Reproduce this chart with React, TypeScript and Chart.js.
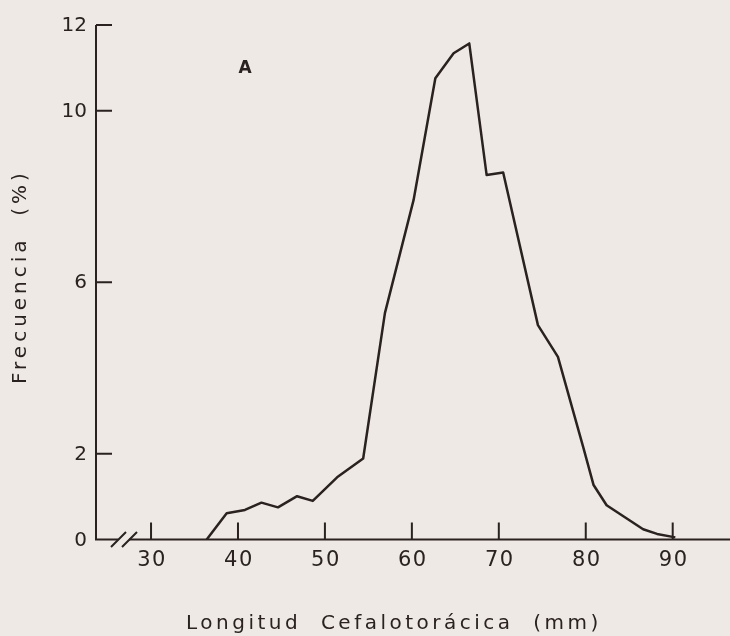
import React, { useEffect, useRef } from "react";
import { Chart, registerables } from "chart.js";

Chart.register(...registerables);

// Carapace length classes (mm) and their frequency (%)
const LENGTH_MM = [
  36.4, 38.7, 40.8, 42.7, 44.6, 46.8, 48.6, 51.4, 54.4, 56.9, 60.2, 62.7,
  64.8, 66.6, 68.6, 70.5, 74.5, 76.8, 79.7, 80.9, 82.4, 86.6, 88.2, 90.3,
];
const FREQ_PCT = [
  0, 0.61, 0.69, 0.86, 0.75, 1.01, 0.9, 1.45, 1.89, 5.28, 7.92, 10.76,
  11.34, 11.57, 8.5, 8.56, 5.0, 4.26, 2.16, 1.27, 0.8, 0.24, 0.13, 0.05,
];

const X_TICKS = [30, 40, 50, 60, 70, 80, 90];
const Y_TICKS = [0, 2, 6, 10, 12];
const X_MIN = 23.67;
const X_MAX = 96.59;
const Y_MAX = 12;

const X_TITLE = "Longitud  Cefalotorácica  (mm)";
const Y_TITLE = "Frecuencia  (%)";
const PANEL_LABEL = "A";

const INK = "#2a2220";
const PAPER = "#eee9e4";
const FONT = "'DejaVu Sans', sans-serif";

const paperAxes = {
  id: "paperAxes",
  beforeDatasetsDraw(chart: any) {
    const { ctx, chartArea, scales } = chart;
    const x = scales.x;
    const y = scales.y;
    const x0 = chartArea.left;
    const y0 = y.getPixelForValue(0);
    const yTop = y.getPixelForValue(Y_MAX);
    ctx.save();
    ctx.strokeStyle = INK;
    ctx.lineWidth = 2;
    ctx.lineCap = "butt";

    // vertical axis and first piece of the broken horizontal axis
    ctx.beginPath();
    ctx.moveTo(x0, yTop);
    ctx.lineTo(x0, y0);
    ctx.lineTo(x0 + 22, y0);
    ctx.stroke();

    // rest of horizontal axis after the break
    ctx.beginPath();
    ctx.moveTo(x0 + 33, y0);
    ctx.lineTo(chartArea.right, y0);
    ctx.stroke();

    // break marks
    ctx.beginPath();
    for (const cx of [x0 + 22.5, x0 + 33.5]) {
      ctx.moveTo(cx - 7.5, y0 + 7.5);
      ctx.lineTo(cx + 7.5, y0 - 7.5);
    }
    ctx.stroke();

    // inward tick marks
    ctx.beginPath();
    for (const v of Y_TICKS) {
      if (v === 0) continue;
      const py = y.getPixelForValue(v);
      ctx.moveTo(x0, py);
      ctx.lineTo(x0 + 16, py);
    }
    for (const v of X_TICKS) {
      const px = x.getPixelForValue(v);
      ctx.moveTo(px, y0);
      ctx.lineTo(px, y0 - 17);
    }
    ctx.stroke();
    ctx.restore();
  },
  afterDraw(chart: any) {
    const { ctx, scales } = chart;
    const x = scales.x;
    const y = scales.y;
    const y0 = y.getPixelForValue(0);
    ctx.save();
    ctx.fillStyle = INK;

    // y tick labels
    ctx.font = `20px ${FONT}`;
    ctx.textAlign = "right";
    ctx.textBaseline = "middle";
    for (const v of Y_TICKS) {
      ctx.fillText(String(v), 87, y.getPixelForValue(v) + 1);
    }

    // x tick labels
    ctx.font = `21px ${FONT}`;
    (ctx as any).letterSpacing = "1.5px";
    ctx.textAlign = "center";
    for (const v of X_TICKS) {
      ctx.fillText(String(v), x.getPixelForValue(v) + 1, y0 + 21);
    }

    // axis titles
    ctx.font = `20px ${FONT}`;
    (ctx as any).letterSpacing = "3.5px";
    ctx.textAlign = "left";
    ctx.textBaseline = "alphabetic";
    ctx.fillText(X_TITLE, 186, 629);

    ctx.save();
    ctx.font = `20px ${FONT}`;
    (ctx as any).letterSpacing = "4px";
    ctx.translate(26, 384);
    ctx.rotate(-Math.PI / 2);
    ctx.fillText(Y_TITLE, 0, 0);
    ctx.restore();

    // panel label
    (ctx as any).letterSpacing = "0px";
    ctx.font = `bold 17px ${FONT}`;
    ctx.textAlign = "center";
    ctx.textBaseline = "middle";
    ctx.fillText(PANEL_LABEL, 245, 69);
    ctx.restore();
  },
};

export default function App() {
  const canvasRef = useRef<HTMLCanvasElement | null>(null);

  useEffect(() => {
    const canvas = canvasRef.current;
    if (!canvas) return;
    const chart = new Chart(canvas, {
      type: "line",
      data: {
        datasets: [
          {
            data: LENGTH_MM.map((v, i) => ({ x: v, y: FREQ_PCT[i] })),
            borderColor: INK,
            borderWidth: 2.5,
            pointRadius: 0,
            tension: 0,
            fill: false,
            borderJoinStyle: "round",
          },
        ],
      },
      options: {
        animation: false,
        responsive: false,
        maintainAspectRatio: false,
        layout: { padding: { left: 96, top: 25, right: 0, bottom: 96.5 } },
        scales: {
          x: { type: "linear", min: X_MIN, max: X_MAX, display: false },
          y: { type: "linear", min: 0, max: Y_MAX, display: false },
        },
        plugins: {
          legend: { display: false },
          tooltip: { enabled: false },
        },
      },
      plugins: [paperAxes],
    });
    return () => chart.destroy();
  }, []);

  return (
    <div
      style={{
        position: "fixed",
        left: 0,
        top: 0,
        width: 730,
        height: 636,
        background: PAPER,
      }}
    >
      <canvas ref={canvasRef} width={730} height={636} />
    </div>
  );
}
